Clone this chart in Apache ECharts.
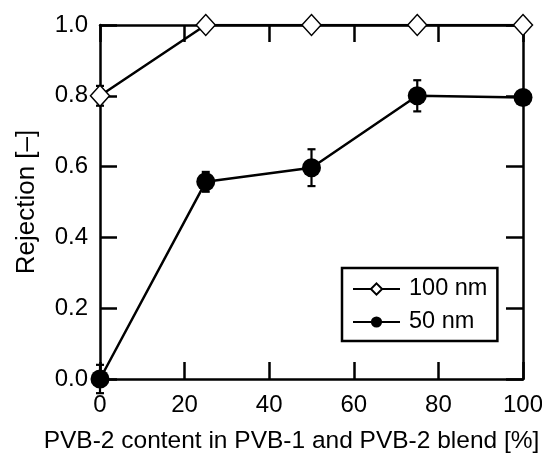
<!DOCTYPE html>
<html><head><meta charset="utf-8">
<script src="https://cdn.jsdelivr.net/npm/echarts@6/dist/echarts.min.js"></script>
<style>html,body{margin:0;padding:0;background:#fff}#c{width:542px;height:463px}</style>
</head><body><div id="c"></div>
<script>
var xValues = [0, 25, 50, 75, 100];
var rej100 = [0.80, 1.0, 1.0, 1.0, 1.0];
var err100 = [0.028, 0, 0, 0, 0];
var rej50 = [0.0, 0.557, 0.597, 0.80, 0.795];
var err50 = [0.04, 0.028, 0.052, 0.044, 0.02];
var seriesNames = ['100 nm', '50 nm'];
var xTicks = [0, 20, 40, 60, 80, 100];
var yTicks = [0.0, 0.2, 0.4, 0.6, 0.8, 1.0];

var FONT = 'Liberation Sans';
var chart = echarts.init(document.getElementById('c'));

function pairs(vals){ return xValues.map(function(x,i){ return [x, vals[i]]; }); }
function errData(vals, errs){ return xValues.map(function(x,i){ return [x, vals[i]-errs[i], vals[i]+errs[i]]; }).filter(function(d){ return d[2]-d[1] > 0; }); }

function errRender(params, api){
  var x = api.value(0), lo = api.value(1), hi = api.value(2);
  var pLo = api.coord([x, lo]), pHi = api.coord([x, hi]);
  var hw = 4;
  var st = {stroke:'#000', lineWidth:2.2};
  return {type:'group', children:[
    {type:'line', shape:{x1:pLo[0], y1:pLo[1], x2:pHi[0], y2:pHi[1]}, style:st},
    {type:'line', shape:{x1:pLo[0]-hw, y1:pLo[1], x2:pLo[0]+hw, y2:pLo[1]}, style:st},
    {type:'line', shape:{x1:pHi[0]-hw, y1:pHi[1], x2:pHi[0]+hw, y2:pHi[1]}, style:st}
  ]};
}

var axisCommon = {
  axisLine:{show:true, onZero:false, lineStyle:{color:'#000', width:2.5}},
  axisTick:{show:true, inside:true, length:17, lineStyle:{color:'#000', width:2.5}},
  splitLine:{show:false}
};

chart.setOption({
  animation:false,
  backgroundColor:'#fff',
  grid:{left:100, right:19, top:25, bottom:84, containLabel:false, outerBoundsMode:'none'},
  legend:{
    data:seriesNames,
    orient:'vertical',
    left:342, top:268,
    padding:[9, 10, 7, 10],
    itemGap:9,
    itemWidth:47, itemHeight:14,
    borderColor:'#000', borderWidth:2.5,
    textStyle:{fontFamily:FONT, fontSize:23.5, color:'#000', padding:[0,0,0,4]},
    backgroundColor:'#fff'
  },
  xAxis:[
    Object.assign({type:'value', min:0, max:100, interval:20, position:'bottom',
      axisLabel:{fontFamily:FONT, fontSize:24, color:'#000', margin:14, hideOverlap:false},
      name:'PVB-2 content in PVB-1 and PVB-2 blend [%]', nameLocation:'middle', nameGap:50,
      nameTextStyle:{fontFamily:FONT, fontSize:24.5, color:'#000', padding:[0, 40, 0, 0]}
    }, axisCommon),
    Object.assign({type:'value', min:0, max:100, interval:20, position:'top', axisLabel:{show:false}}, axisCommon)
  ],
  yAxis:[
    Object.assign({type:'value', min:0, max:1, interval:0.2, position:'left',
      axisLabel:{fontFamily:FONT, fontSize:24, color:'#000', margin:12, formatter:function(v){return v.toFixed(1);}},
      name:'Rejection [\u2013]', nameLocation:'middle', nameGap:60, nameRotate:90,
      nameTextStyle:{fontFamily:FONT, fontSize:26, color:'#000'}
    }, axisCommon),
    Object.assign({type:'value', min:0, max:1, interval:0.2, position:'right', axisLabel:{show:false}}, axisCommon)
  ],
  series:[
    {type:'custom', name:'err100', renderItem:errRender, data:errData(rej100, err100), z:1, silent:true},
    {type:'custom', name:'err50', renderItem:errRender, data:errData(rej50, err50), z:1, silent:true},
    {type:'line', name:seriesNames[0], data:pairs(rej100), symbol:'diamond', symbolSize:[19,21],
      showAllSymbol:true, lineStyle:{color:'#000', width:2.5}, itemStyle:{color:'#fff', borderColor:'#000', borderWidth:1.5}, z:3},
    {type:'line', name:seriesNames[1], data:pairs(rej50), symbol:'circle', symbolSize:19,
      showAllSymbol:true, lineStyle:{color:'#000', width:2.5}, itemStyle:{color:'#000', borderColor:'#000', borderWidth:0}, z:3}
  ]
});
</script></body></html>
